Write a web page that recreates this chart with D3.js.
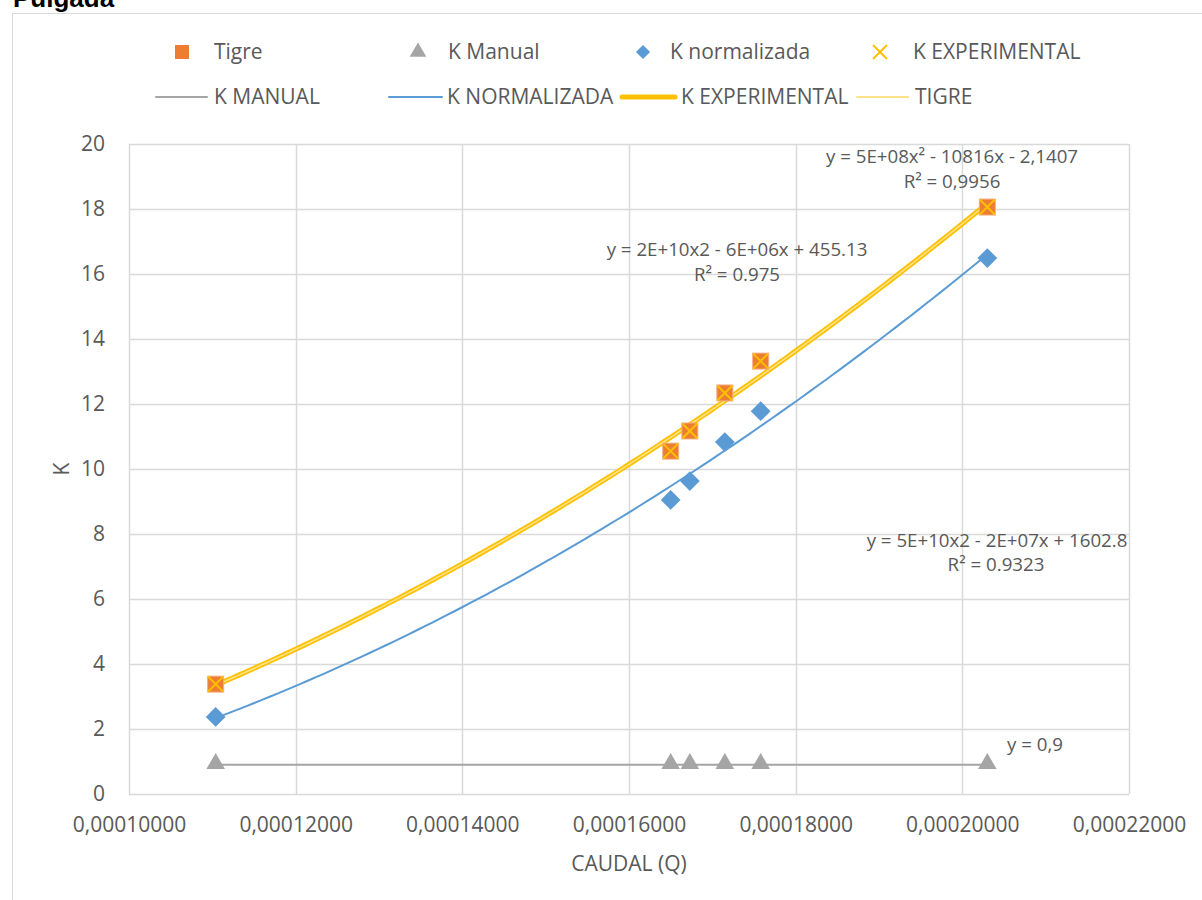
<!DOCTYPE html>
<html>
<head>
<meta charset="utf-8">
<script src="https://cdn.jsdelivr.net/npm/d3@7"></script>
<style>
  html, body { margin: 0; padding: 0; background: #fff; }
  svg { display: block; }
  text { font-family: "Open Sans", "Noto Sans", sans-serif; fill: #595959; }
</style>
</head>
<body>
<svg id="chart" width="1202" height="900"></svg>
<script>
// Caudal (Q) por ensayo
const caudal = [0.0001104, 0.0001650, 0.0001673, 0.0001715, 0.0001758, 0.0002030];
// Coeficientes K por serie
const kTigre = [3.38, 10.55, 11.17, 12.34, 13.32, 18.06];
const kManual = [0.9, 0.9, 0.9, 0.9, 0.9, 0.9];
const kNormalizada = [2.37, 9.05, 9.63, 10.83, 11.78, 16.49];
const kExperimental = [3.38, 10.55, 11.17, 12.34, 13.32, 18.06];

const xTicks = [0.0001, 0.00012, 0.00014, 0.00016, 0.00018, 0.0002, 0.00022];
const yTicks = [0, 2, 4, 6, 8, 10, 12, 14, 16, 18, 20];

const COLORS = { orange: "#ED7D31", grey: "#A5A5A5", blue: "#5B9BD5", yellow: "#FFC000", pale: "#FFE38A" };
const AXIS_FONT = "21px";

const svg = d3.select("#chart");

// marco del gráfico
svg.append("rect").attr("x", 12.5).attr("y", 13.5).attr("width", 1300).attr("height", 1000)
  .attr("fill", "#fff").attr("stroke", "#d9d9d9").attr("stroke-width", 1);

svg.append("text").attr("x", 13).attr("y", 7).text("Pulgada")
  .style("font-family", "'Liberation Sans', Arial, sans-serif").style("font-weight", "bold")
  .style("font-size", "26px").style("fill", "#000");

const x = d3.scaleLinear().domain([0.0001, 0.00022]).range([129, 1129]);
const y = d3.scaleLinear().domain([0, 20]).range([794, 144]);

// cuadrícula
const grid = svg.append("g");
grid.selectAll("line.h").data(yTicks).join("line")
  .attr("x1", x(0.0001)).attr("x2", x(0.00022))
  .attr("y1", d => Math.round(y(d)) + 0.5).attr("y2", d => Math.round(y(d)) + 0.5)
  .attr("stroke", "#d9d9d9").attr("stroke-width", 1.5);
grid.selectAll("line.v").data(xTicks).join("line")
  .attr("y1", y(20)).attr("y2", y(0))
  .attr("x1", d => Math.round(x(d)) + 0.5).attr("x2", d => Math.round(x(d)) + 0.5)
  .attr("stroke", "#d9d9d9").attr("stroke-width", 1.5);

// ejes
const fmtX = d => d3.format(".8f")(d).replace(".", ",");
const xAxis = svg.append("g").attr("transform", `translate(0,${y(0)})`)
  .call(d3.axisBottom(x).tickValues(xTicks).tickFormat(fmtX).tickSize(0).tickPadding(23));
const yAxis = svg.append("g").attr("transform", `translate(${x(0.0001)},0)`)
  .call(d3.axisLeft(y).tickValues(yTicks).tickSize(0).tickPadding(24));
[xAxis, yAxis].forEach(a => {
  a.attr("font-size", null).attr("font-family", null);
  a.select(".domain").remove();
  a.selectAll("text").style("font-size", AXIS_FONT).style("fill", "#595959")
    .style("font-family", "'Open Sans', sans-serif");
});

svg.append("text").attr("x", 629).attr("y", 871).attr("text-anchor", "middle")
  .style("font-size", AXIS_FONT).text("CAUDAL (Q)");
svg.append("text").attr("transform", "translate(69,469) rotate(-90)").attr("text-anchor", "middle")
  .style("font-size", AXIS_FONT).text("K");

// ajuste polinómico de grado 2 por mínimos cuadrados
function polyFit2(xs, ys) {
  const m = d3.mean(xs), s = 1e4; // centrado y escalado para estabilidad
  const u = xs.map(v => (v - m) * s);
  const S = [0, 0, 0, 0, 0], T = [0, 0, 0];
  u.forEach((ui, i) => {
    for (let k = 0; k < 5; k++) S[k] += Math.pow(ui, k);
    for (let k = 0; k < 3; k++) T[k] += ys[i] * Math.pow(ui, k);
  });
  const A = [[S[0], S[1], S[2]], [S[1], S[2], S[3]], [S[2], S[3], S[4]]];
  const b = T.slice();
  for (let i = 0; i < 3; i++) {
    for (let j = i + 1; j < 3; j++) {
      const f = A[j][i] / A[i][i];
      for (let k = i; k < 3; k++) A[j][k] -= f * A[i][k];
      b[j] -= f * b[i];
    }
  }
  const c = [0, 0, 0];
  for (let i = 2; i >= 0; i--) {
    let sum = b[i];
    for (let k = i + 1; k < 3; k++) sum -= A[i][k] * c[k];
    c[i] = sum / A[i][i];
  }
  return v => { const t = (v - m) * s; return c[0] + c[1] * t + c[2] * t * t; };
}

function trendPath(ys) {
  const f = polyFit2(caudal, ys);
  const [lo, hi] = d3.extent(caudal);
  const pts = d3.range(0, 101).map(i => lo + (hi - lo) * i / 100);
  return d3.line().x(d => x(d)).y(d => y(f(d)))(pts);
}

const lines = svg.append("g").attr("fill", "none");
lines.append("path").attr("d", d3.line().x(d => x(d[0])).y(d => y(d[1]))(
  d3.extent(caudal).map(v => [v, kManual[0]])))
  .attr("stroke", COLORS.grey).attr("stroke-width", 2);
lines.append("path").attr("d", trendPath(kNormalizada)).attr("stroke", COLORS.blue).attr("stroke-width", 2);
lines.append("path").attr("d", trendPath(kExperimental)).attr("stroke", COLORS.yellow).attr("stroke-width", 5);
lines.append("path").attr("d", trendPath(kTigre)).attr("stroke", COLORS.pale).attr("stroke-width", 1.5);

// marcadores
const mk = svg.append("g");
const tri = d3.symbol().type(d3.symbolTriangle).size(150);
mk.selectAll("path.tri").data(caudal).join("path")
  .attr("d", tri).attr("transform", (d, i) => `translate(${x(d)},${y(kManual[i]) - 1})`)
  .attr("fill", COLORS.grey);
mk.selectAll("rect.dia").data(caudal).join("rect")
  .attr("x", -7).attr("y", -7).attr("width", 14).attr("height", 14)
  .attr("transform", (d, i) => `translate(${x(d)},${y(kNormalizada[i])}) rotate(45)`)
  .attr("fill", COLORS.blue);
mk.selectAll("rect.sq").data(caudal).join("rect")
  .attr("x", d => x(d) - 8).attr("y", (d, i) => y(kTigre[i]) - 8).attr("width", 16).attr("height", 16)
  .attr("fill", COLORS.orange).attr("stroke", "#F4B183").attr("stroke-width", 1);
mk.selectAll("path.x").data(caudal).join("path")
  .attr("d", (d, i) => {
    const cx = x(d), cy = y(kExperimental[i]), r = 7.5;
    return `M${cx - r},${cy - r}L${cx + r},${cy + r}M${cx - r},${cy + r}L${cx + r},${cy - r}`;
  })
  .attr("stroke", COLORS.yellow).attr("stroke-width", 2).attr("fill", "none");

// etiquetas de ecuaciones
const eq = [
  { t: "y = 5E+08x² - 10816x - 2,1407", x: 952, y: 163 },
  { t: "R² = 0,9956", x: 952, y: 188 },
  { t: "y = 2E+10x2 - 6E+06x + 455.13", x: 737, y: 256 },
  { t: "R² = 0.975", x: 737, y: 281 },
  { t: "y = 5E+10x2 - 2E+07x + 1602.8", x: 997, y: 547 },
  { t: "R² = 0.9323", x: 996, y: 571 },
  { t: "y = 0,9", x: 1035, y: 751 }
];
svg.append("g").selectAll("text").data(eq).join("text")
  .attr("x", d => d.x).attr("y", d => d.y).attr("text-anchor", "middle")
  .style("font-size", "18.7px").text(d => d.t);

// leyenda
const lg = svg.append("g").style("font-size", AXIS_FONT);
const r1 = 52, r2 = 97;
lg.append("rect").attr("x", 175).attr("y", r1 - 7).attr("width", 14).attr("height", 14).attr("fill", COLORS.orange);
lg.append("text").attr("x", 214).attr("y", r1 + 7).text("Tigre");
lg.append("path").attr("d", d3.symbol().type(d3.symbolTriangle).size(120)).attr("transform", `translate(418,${r1})`).attr("fill", COLORS.grey);
lg.append("text").attr("x", 448).attr("y", r1 + 7).text("K Manual");
lg.append("rect").attr("x", -5).attr("y", -5).attr("width", 10).attr("height", 10)
  .attr("transform", `translate(643,${r1}) rotate(45)`).attr("fill", COLORS.blue);
lg.append("text").attr("x", 670).attr("y", r1 + 7).text("K normalizada");
lg.append("path").attr("d", `M873,${r1 - 7}L887,${r1 + 7}M873,${r1 + 7}L887,${r1 - 7}`)
  .attr("stroke", COLORS.yellow).attr("stroke-width", 2);
lg.append("text").attr("x", 913).attr("y", r1 + 7).text("K EXPERIMENTAL");

const legLines = [
  { x1: 156, x2: 207, c: COLORS.grey, w: 2, tx: 214, t: "K MANUAL" },
  { x1: 389, x2: 442, c: COLORS.blue, w: 2, tx: 447, t: "K NORMALIZADA" },
  { x1: 622, x2: 675, c: COLORS.yellow, w: 5, tx: 681, t: "K EXPERIMENTAL" },
  { x1: 857, x2: 908, c: COLORS.pale, w: 2, tx: 915, t: "TIGRE" }
];
legLines.forEach(l => {
  lg.append("line").attr("x1", l.x1).attr("x2", l.x2).attr("y1", r2).attr("y2", r2)
    .attr("stroke", l.c).attr("stroke-width", l.w).attr("stroke-linecap", "round");
  lg.append("text").attr("x", l.tx).attr("y", r2 + 7).text(l.t);
});
</script>
</body>
</html>
